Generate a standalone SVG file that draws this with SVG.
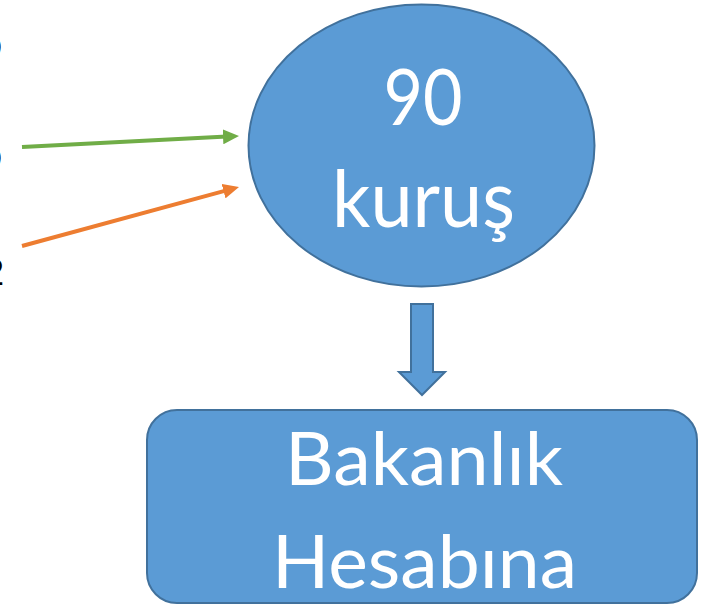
<svg xmlns="http://www.w3.org/2000/svg" width="706" height="604" viewBox="0 0 706 604">
<style>
.shape{fill:#5B9BD5;stroke:#41719C;stroke-width:2}
.lbl{font-family:Lato,"Open Sans","Liberation Sans",sans-serif;fill:#FFFFFF;text-anchor:middle}
.frag{font-family:"Liberation Sans",Arial,sans-serif;font-size:36px;fill:#000000;text-anchor:end}
</style>
<defs>
<marker id="hg" markerUnits="userSpaceOnUse" markerWidth="16" markerHeight="15" refX="4" refY="7.5" orient="auto" viewBox="0 0 16 15">
<path d="M0,0 L16,7.5 L0,15 z" fill="#70AD47"/>
</marker>
<marker id="ho" markerUnits="userSpaceOnUse" markerWidth="16" markerHeight="15" refX="4" refY="7.5" orient="auto" viewBox="0 0 16 15">
<path d="M0,0 L16,7.5 L0,15 z" fill="#ED7D31"/>
</marker>
</defs>
<rect width="706" height="604" fill="#FFFFFF"/>
<g id="left-fragments">
<text class="frag" x="2" y="57">o</text>
<text class="frag" x="2" y="168">o</text>
<text class="frag" x="4" y="285">2</text>
</g>
<g id="connectors">
<line x1="22" y1="147" x2="227" y2="136.6" stroke="#70AD47" stroke-width="4" marker-end="url(#hg)"/>
<line x1="22" y1="246" x2="227.4" y2="190.1" stroke="#ED7D31" stroke-width="4" marker-end="url(#ho)"/>
<polygon class="shape" points="411,304 433,304 433,372 445,372 422,395 399,372 411,372"/>
</g>
<g id="node-90-kurus">
<ellipse class="shape" cx="421.5" cy="145.5" rx="173" ry="141"/>
<text class="lbl" x="423" y="125" font-size="77" textLength="79" lengthAdjust="spacingAndGlyphs">90</text>
<text class="lbl" x="423.5" y="227" font-size="80" textLength="183" lengthAdjust="spacingAndGlyphs">kuruş</text>
</g>
<g id="node-bakanlik">
<rect class="shape" x="147" y="410" width="550" height="193" rx="30" ry="30"/>
<text class="lbl" x="424" y="485" font-size="74" textLength="278" lengthAdjust="spacingAndGlyphs">Bakanlık</text>
<text class="lbl" x="424.5" y="588" font-size="74" textLength="305" lengthAdjust="spacingAndGlyphs">Hesabına</text>
</g>
</svg>
